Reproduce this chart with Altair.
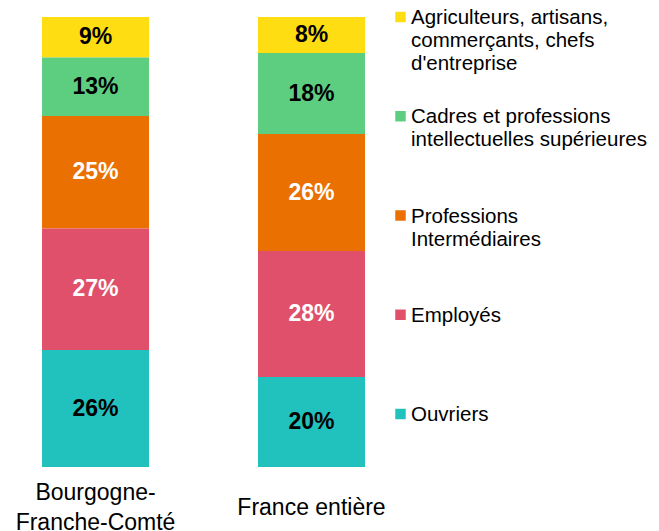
import altair as alt
import pandas as pd

regions = ["Bourgogne-Franche-Comté", "France entière"]
categories = [
    "Agriculteurs, artisans, commerçants, chefs d'entreprise",
    "Cadres et professions intellectuelles supérieures",
    "Professions Intermédiaires",
    "Employés",
    "Ouvriers",
]
legend_labels = [
    "Agriculteurs, artisans,\ncommerçants, chefs\nd'entreprise",
    "Cadres et professions\nintellectuelles supérieures",
    "Professions\nIntermédiaires",
    "Employés",
    "Ouvriers",
]
bfc_values = [9, 13, 25, 27, 26]
france_values = [8, 18, 26, 28, 20]
colors = ["#FFDD13", "#5DCE80", "#EB7002", "#E0506B", "#21C1BD"]

rows = []
for region, vals in zip(regions, [bfc_values, france_values]):
    for i, (cat, v) in enumerate(zip(categories, vals)):
        rows.append({"region": region, "cat": cat, "value": v,
                     "rank": len(categories) - i})
df = pd.DataFrame(rows)

legend_df = pd.DataFrame({"cat": categories, "label": legend_labels})

FONT = "Liberation Sans"

base = alt.Chart(df).transform_stack(
    stack="value", groupby=["region"], as_=["y0", "y1"],
    sort=[alt.SortField("rank", order="ascending")]
).transform_calculate(mid="(datum.y0 + datum.y1) / 2", txt="datum.value + '%'")

xenc = alt.X(
    "region:N", sort=regions, title=None,
    scale=alt.Scale(paddingInner=0.5046, paddingOuter=0.1019, align=0.773),
    axis=alt.Axis(
        labelAngle=0, domain=False, ticks=False, tickSize=0,
        labelFontSize=23, labelPadding=40,
        labelBaseline=alt.condition("datum.value == 'Bourgogne-Franche-Comté'",
                                    alt.value("line-bottom"), alt.value("middle")),
        labelLineHeight=30, labelColor="black", labelFont=FONT,
        labelExpr="datum.label == 'Bourgogne-Franche-Comté' ? ['Bourgogne-', 'Franche-Comté'] : datum.label"),
)
yscale = alt.Scale(domain=[0, 100], nice=False, zero=True)

bars = base.mark_bar().encode(
    x=xenc,
    y=alt.Y("y0:Q", scale=yscale, axis=None),
    y2="y1:Q",
    color=alt.Color("cat:N", sort=categories,
                    scale=alt.Scale(domain=categories, range=colors), legend=None),
)

labels = base.mark_text(fontSize=23, fontWeight="bold", font=FONT, baseline="middle").encode(
    x=xenc,
    y=alt.Y("mid:Q", scale=yscale, axis=None),
    text="txt:N",
    color=alt.condition(
        "datum.cat == 'Employés' || datum.cat == 'Professions Intermédiaires'",
        alt.value("white"), alt.value("black")),
)

left = alt.layer(bars, labels).properties(width=367, height=450)

lyenc = alt.Y("cat:N", sort=categories, axis=None,
              scale=alt.Scale(type="point", range=[0, 397], padding=0))

squares = alt.Chart(legend_df).mark_square(size=110, opacity=1).encode(
    x=alt.value(10.5),
    y=lyenc,
    color=alt.Color("cat:N", scale=alt.Scale(domain=categories, range=colors), legend=None),
)
ltext = alt.Chart(legend_df).mark_text(
    align="left", baseline="alphabetic", dy=7, fontSize=20.5, font=FONT,
    lineBreak="\n", lineHeight=23, color="black"
).encode(
    x=alt.value(21),
    y=lyenc,
    text="label:N",
)
right = alt.layer(squares, ltext).properties(width=255, height=450)

chart = alt.hconcat(left, right, spacing=15, bounds="flush").properties(
    padding={"left": 0, "top": 0, "right": 0, "bottom": 0}
).configure(font=FONT).configure_view(stroke="transparent", strokeWidth=0)

chart.save("out.html", embed_options={"renderer": "svg", "actions": False})
